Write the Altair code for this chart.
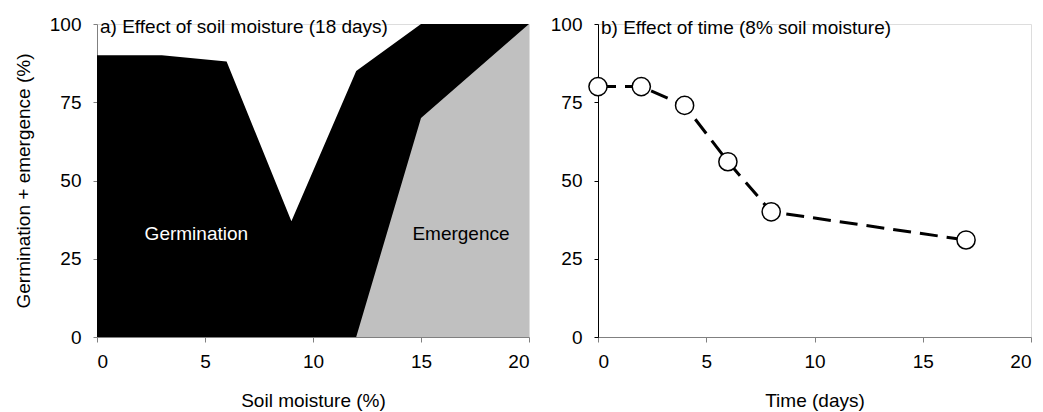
import altair as alt
import pandas as pd

# Panel a: effect of soil moisture (18 days)
moisture = [0, 3, 6, 9, 12, 15, 20]
germination_total = [90, 90, 88, 37, 85, 100, 100]
emergence_x = [3, 12, 15, 20]
emergence = [0, 0, 70, 100]

# Panel b: effect of time (8% soil moisture)
days = [0, 2, 4, 6, 8, 17]
germ_time = [80, 80, 74, 56, 40, 31]

ticks = [0, 25, 50, 75, 100]
xticks = [0, 5, 10, 15, 20]

FONT = "Liberation Sans"
FS = 19
GREY_AXIS = "#808080"

df_g = pd.DataFrame({"x": moisture, "y": germination_total})
df_e = pd.DataFrame({"x": emergence_x, "y": emergence})
df_b = pd.DataFrame({"x": days, "y": germ_time})
one = pd.DataFrame({"k": [0]})

def xaxis(title):
    return alt.Axis(title=title, values=xticks, grid=False, domainColor=GREY_AXIS,
                    tickColor=GREY_AXIS, tickSize=5, labelFontSize=FS, labelFont=FONT,
                    labelColor="black", labelPadding=10, titleFontSize=FS, titleFont=FONT,
                    titleFontWeight="normal", titlePadding=20, titleColor="black")

def yaxis(title, color):
    kw = dict(values=ticks, grid=False, domainColor=color, tickColor=color, tickSize=4,
              labelFontSize=FS, labelFont=FONT, labelColor="black", labelPadding=12)
    if title:
        return alt.Axis(title=title, titleFontSize=FS, titleFont=FONT, titleFontWeight="normal",
                        titlePadding=16, titleColor="black", **kw)
    return alt.Axis(title=None, **kw)

xs_a = alt.Scale(domain=[0, 20], nice=False)
ys = alt.Scale(domain=[0, 100], nice=False)

area_g = alt.Chart(df_g).mark_area(color="black", opacity=1, interpolate="linear").encode(
    x=alt.X("x:Q", scale=xs_a, axis=xaxis("Soil moisture (%)")),
    y=alt.Y("y:Q", scale=ys, axis=yaxis("Germination + emergence (%)", GREY_AXIS)),
)
area_e = alt.Chart(df_e).mark_area(color="#c0c0c0", opacity=1, interpolate="linear").encode(
    x="x:Q", y="y:Q"
)
title_a = alt.Chart(one).mark_text(align="left", baseline="middle", dx=3, dy=3,
                                   fontSize=FS, font=FONT, color="black").encode(
    x=alt.datum(0), y=alt.datum(100), text=alt.value("a) Effect of soil moisture (18 days)")
)
lab_g = alt.Chart(one).mark_text(fontSize=FS, font=FONT, color="white").encode(
    x=alt.datum(4.6), y=alt.datum(33), text=alt.value("Germination")
)
lab_e = alt.Chart(one).mark_text(fontSize=FS, font=FONT, color="black").encode(
    x=alt.datum(16.85), y=alt.datum(33), text=alt.value("Emergence")
)
panel_a = alt.layer(area_g, area_e, title_a, lab_g, lab_e).properties(width=432, height=313)

xs_b = alt.Scale(domain=[0, 20], nice=False)
line_b = alt.Chart(df_b).mark_line(color="black", strokeWidth=3, strokeDash=[18, 9]).encode(
    x=alt.X("x:Q", scale=xs_b, axis=xaxis("Time (days)")),
    y=alt.Y("y:Q", scale=ys, axis=yaxis(None, "black")),
)
pts_b = alt.Chart(df_b).mark_point(shape="circle", filled=True, fill="white", stroke="black",
                                   strokeWidth=1.5, size=330, opacity=1).encode(
    x="x:Q", y="y:Q"
)
title_b = alt.Chart(one).mark_text(align="left", baseline="middle", dx=3, dy=4,
                                   fontSize=FS, font=FONT, color="black").encode(
    x=alt.datum(0), y=alt.datum(100), text=alt.value("b) Effect of time (8% soil moisture)")
)
panel_b = alt.layer(line_b, pts_b, title_b).properties(width=433, height=313)

chart = alt.hconcat(panel_a, panel_b, spacing=19).configure_view(stroke=None).configure(
    padding={"left": 5, "top": 6, "right": 0, "bottom": 0}
)

chart.save("out.html", embed_options={"renderer": "svg", "actions": False})
